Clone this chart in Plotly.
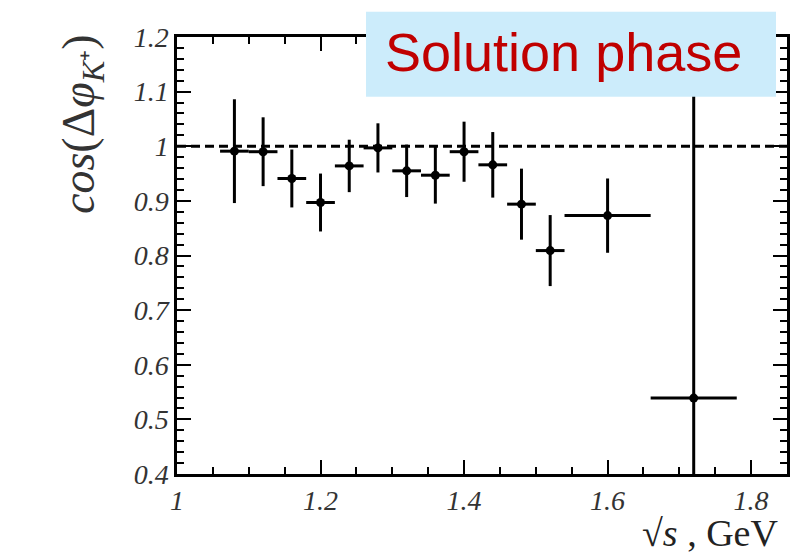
import plotly.graph_objects as go

# Data
sqrt_s = [1.08, 1.12, 1.16, 1.20, 1.24, 1.28, 1.32, 1.36, 1.40, 1.44, 1.48, 1.52, 1.60, 1.72]
cos_dphi = [0.991, 0.990, 0.941, 0.897, 0.964, 0.997, 0.955, 0.947, 0.990, 0.966, 0.894, 0.809, 0.873, 0.539]
y_err = [0.095, 0.063, 0.053, 0.053, 0.048, 0.045, 0.048, 0.052, 0.055, 0.060, 0.065, 0.065, 0.068, 0.700]
x_err = [0.02, 0.02, 0.02, 0.02, 0.02, 0.02, 0.02, 0.02, 0.02, 0.02, 0.02, 0.02, 0.06, 0.06]
ref_x = [1.0, 1.85]
ref_y = [1.0, 1.0]

# page is offset by the default 8px body margin
OFF = 8
W, H = 809 - OFF, 554 - OFF
L, R, T, B = 177, 787, 37, 474   # plot area in page pixels

def px(xp):
    return (xp - L) / (R - L)

def py(yp):
    return (B - yp) / (B - T)

fig = go.Figure()
fig.add_trace(go.Scatter(x=ref_x, y=ref_y, mode="lines",
                         line=dict(color="black", width=3, dash="9px,5px"),
                         hoverinfo="skip", showlegend=False))
fig.add_trace(go.Scatter(
    x=sqrt_s, y=cos_dphi, mode="markers",
    marker=dict(color="black", size=9),
    error_y=dict(type="data", array=y_err, color="black", thickness=3, width=0),
    error_x=dict(type="data", array=x_err, color="black", thickness=3, width=0),
    showlegend=False))

tickfont = dict(family="Liberation Serif", size=28, color="#333", style="italic")
fig.update_xaxes(range=[1.0, 1.85], tick0=1.0, dtick=0.2, ticks="inside", ticklen=14,
                 tickwidth=1.5, tickcolor="black",
                 minor=dict(dtick=0.05, ticks="inside", ticklen=7, tickcolor="black", tickwidth=1.5),
                 showline=True, linecolor="black", linewidth=2.5, mirror="ticks",
                 showgrid=False, zeroline=False, tickfont=tickfont)
fig.update_yaxes(range=[0.4, 1.2], tick0=0.4, dtick=0.1, ticks="inside", ticklen=14,
                 tickwidth=1.5, tickcolor="black",
                 minor=dict(dtick=0.02, ticks="inside", ticklen=7, tickcolor="black", tickwidth=1.5),
                 showline=True, linecolor="black", linewidth=2.5, mirror="ticks",
                 showgrid=False, zeroline=False, tickfont=tickfont)

fig.add_shape(type="rect", xref="paper", yref="paper",
              x0=px(366), x1=px(776), y0=py(96.7), y1=py(11.7),
              fillcolor="#CCECFB", line=dict(width=0), layer="above")

fig.add_annotation(xref="paper", yref="paper", x=px(563), y=py(52),
                   text="Solution phase", showarrow=False,
                   font=dict(family="Liberation Sans", size=54, color="#C00000"),
                   xanchor="center", yanchor="middle")

fig.add_annotation(xref="paper", yref="paper", x=px(82), y=py(124),
                   text="<i>cos</i>(Δ<i>φ</i><sub><i>K</i>⁺</sub>)", textangle=-90,
                   showarrow=False,
                   font=dict(family="Liberation Serif", size=46, color="#333"),
                   xanchor="center", yanchor="middle")

fig.add_annotation(xref="paper", yref="paper", x=px(780), y=py(556),
                   text="√<i>s</i> , GeV", showarrow=False,
                   font=dict(family="Liberation Serif", size=38, color="#222"),
                   xanchor="right", yanchor="bottom")

fig.update_layout(width=W, height=H,
                  margin=dict(l=L - OFF, r=809 - R, t=T - OFF, b=554 - B),
                  plot_bgcolor="white", paper_bgcolor="white")

fig.write_html("out.html")
